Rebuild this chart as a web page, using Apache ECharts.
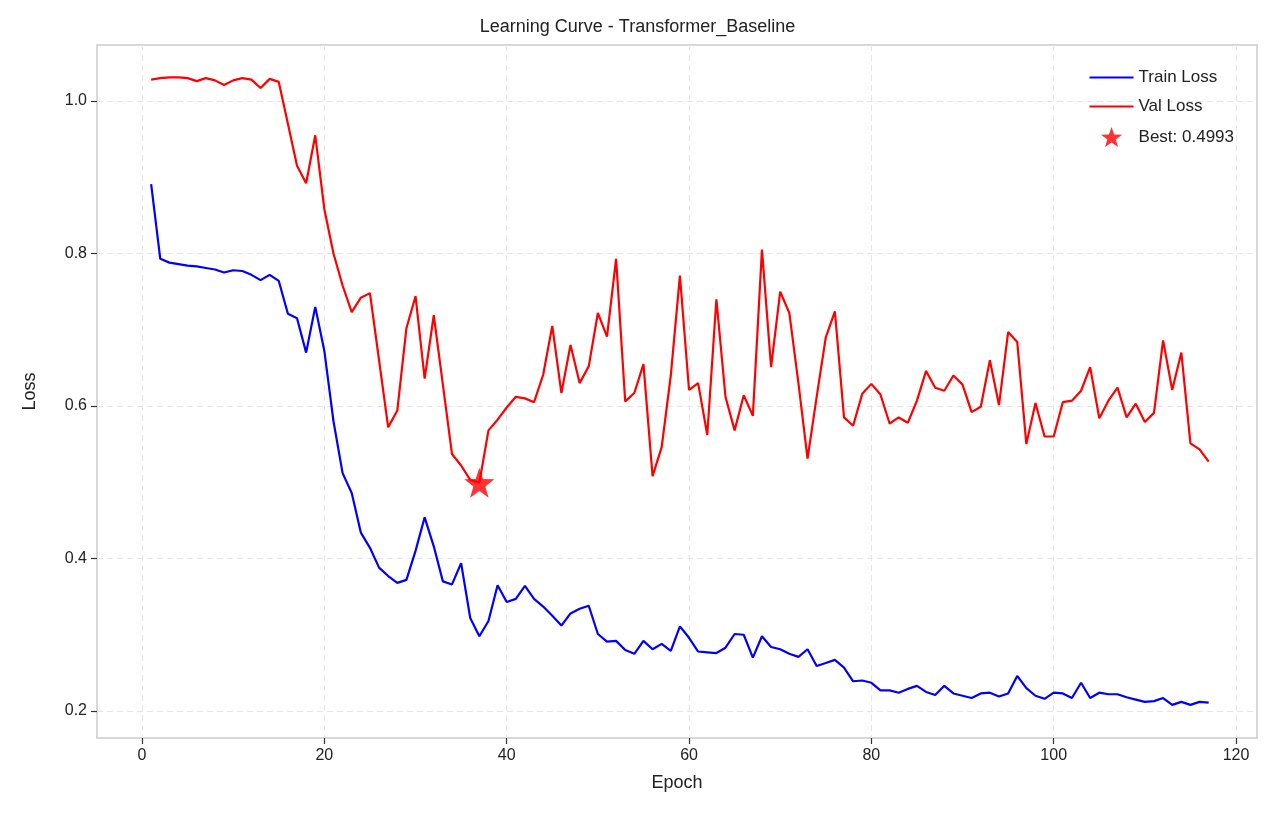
<!DOCTYPE html>
<html>
<head>
<meta charset="utf-8">
<script src="https://cdn.jsdelivr.net/npm/echarts@6/dist/echarts.min.js"></script>
<style>html,body{margin:0;padding:0;background:#fff}#chart{width:1275px;height:824px}</style>
</head>
<body>
<div id="chart"></div>
<script>
var trainLoss = [0.891,0.793,0.788,0.786,0.784,0.783,0.781,0.779,0.775,0.778,0.777,0.772,0.765,0.772,0.764,0.721,0.715,0.670,0.730,0.672,
	0.580,0.512,0.486,0.434,0.414,0.388,0.377,0.368,0.372,0.410,0.454,0.416,0.370,0.366,0.394,0.322,0.298,0.318,0.365,0.343,
	0.347,0.364,0.347,0.337,0.325,0.312,0.328,0.334,0.338,0.301,0.291,0.292,0.280,0.275,0.292,0.281,0.288,0.279,0.311,0.296,
	0.278,0.277,0.276,0.283,0.301,0.300,0.270,0.298,0.284,0.281,0.275,0.271,0.281,0.259,0.263,0.267,0.257,0.239,0.240,0.237,
	0.227,0.227,0.224,0.229,0.233,0.225,0.221,0.233,0.223,0.220,0.217,0.223,0.224,0.219,0.223,0.246,0.230,0.220,0.216,0.224,
	0.223,0.217,0.237,0.217,0.224,0.222,0.222,0.218,0.215,0.212,0.213,0.217,0.208,0.212,0.208,0.212,0.211];
var valLoss = [1.028,1.030,1.031,1.031,1.030,1.026,1.030,1.027,1.021,1.027,1.030,1.028,1.017,1.029,1.025,0.970,0.915,0.892,0.955,0.858,
	0.800,0.758,0.723,0.742,0.748,0.660,0.572,0.594,0.702,0.744,0.636,0.719,0.628,0.537,0.522,0.503,0.4993,0.568,0.582,0.598,
	0.612,0.610,0.605,0.641,0.705,0.617,0.680,0.630,0.652,0.722,0.691,0.793,0.606,0.617,0.655,0.508,0.546,0.640,0.771,0.621,
	0.630,0.562,0.740,0.612,0.568,0.614,0.587,0.805,0.651,0.750,0.722,0.630,0.531,0.612,0.690,0.724,0.585,0.574,0.616,0.629,
	0.615,0.577,0.585,0.578,0.607,0.646,0.624,0.620,0.640,0.628,0.592,0.599,0.660,0.601,0.697,0.684,0.550,0.604,0.560,0.560,
	0.605,0.607,0.620,0.651,0.584,0.607,0.624,0.585,0.603,0.579,0.591,0.686,0.621,0.670,0.551,0.543,0.527];
var bestEpoch = 37, bestVal = 0.4993;
var xTicks = [0, 20, 40, 60, 80, 100, 120];
var yTicks = [0.2, 0.4, 0.6, 0.8, 1.0];

var star = 'path://M0,-10L2.35,-3.24L9.51,-3.09L3.8,1.24L5.88,8.09L0,4L-5.88,8.09L-3.8,1.24L-9.51,-3.09L-2.35,-3.24Z';
var font = 'Liberation Sans';
var chart = echarts.init(document.getElementById('chart'));
chart.setOption({
	animation: false,
	textStyle: {fontFamily: font},
	title: {
		text: 'Learning Curve - Transformer_Baseline',
		left: 'center', top: 13,
		textStyle: {fontSize: 18, fontWeight: 'normal', color: '#222', fontFamily: font}
	},
	legend: {
		right: 36, top: 64, orient: 'vertical', itemGap: 12,
		itemWidth: 44, itemHeight: 20,
		textStyle: {fontSize: 17, color: '#222', fontFamily: font},
		data: [
			{name: 'Train Loss', icon: 'path://M0,0H40V2H0Z'},
			{name: 'Val Loss', icon: 'path://M0,0H40V2H0Z'},
			{name: 'Best: 0.4993', icon: star, itemStyle: {color: 'red'}}
		]
	},
	grid: {left: 97, right: 18, top: 45, bottom: 86, show: true, borderColor: '#cccccc', borderWidth: 1.5},
	xAxis: {
		type: 'value', min: -4.94, max: 122.3,
		name: 'Epoch', nameLocation: 'middle', nameGap: 36,
		nameTextStyle: {fontSize: 18, color: '#222'},
		axisLine: {show: false, onZero: false},
		axisTick: {show: true, length: 6, lineStyle: {color: '#333', width: 1.2}, customValues: xTicks},
		axisLabel: {fontSize: 16, color: '#222', margin: 10, customValues: xTicks},
		splitLine: {show: true, lineStyle: {color: '#e6e6e6', type: [6, 4]}}
	},
	yAxis: {
		type: 'value', min: 0.1646, max: 1.0734,
		name: 'Loss', nameLocation: 'middle', nameGap: 58,
		nameTextStyle: {fontSize: 18, color: '#222'},
		axisLine: {show: false, onZero: false},
		axisTick: {show: true, length: 6, lineStyle: {color: '#333', width: 1.2}, customValues: yTicks},
		axisLabel: {fontSize: 16, color: '#222', margin: 10, customValues: yTicks, formatter: function(v){return v.toFixed(1);}},
		splitLine: {show: true, lineStyle: {color: '#e6e6e6', type: [6, 4]}}
	},
	series: [
		{name: 'Train Loss', type: 'line', showSymbol: false, color: '#0000ff', lineStyle: {width: 2.2},
			data: trainLoss.map(function(v, i){return [i + 1, v];})},
		{name: 'Val Loss', type: 'line', showSymbol: false, color: '#ff0000', lineStyle: {width: 2.2},
			data: valLoss.map(function(v, i){return [i + 1, v];})},
		{name: 'Best: 0.4993', type: 'scatter', symbol: star, symbolSize: 30, color: '#ff0000', z: 5,
			data: [[bestEpoch, bestVal]]}
	]
});
</script>
</body>
</html>
